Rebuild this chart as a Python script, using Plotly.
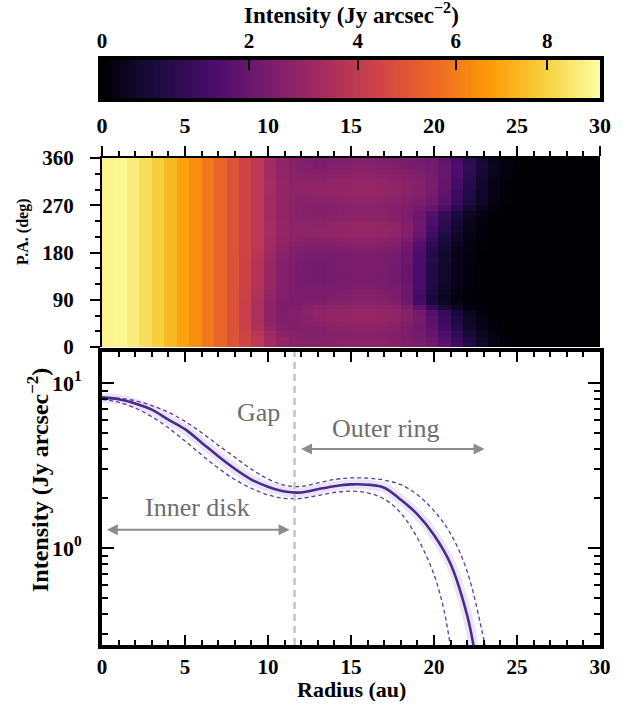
import numpy as np
import plotly.graph_objects as go

# ---------------- data ----------------
# colour scale (power-law norm, gamma 0.8)
cbar_ticks = [0, 2, 4, 6, 8]
cbar_max = 9.2
cbar_gamma = 0.8

# polar-deprojected map: mean radial intensity per radius bin (Jy/arcsec^2)
heat_r_step = 0.75
heat_base = [8.9, 9.0, 8.7, 8.3, 7.9, 7.4, 6.9, 6.4, 5.9, 5.4,
             4.9, 4.4, 3.9, 3.3, 2.9, 2.7, 2.65, 2.65, 2.7, 2.75,
             2.8, 2.8, 2.75, 2.65, 2.5, 2.3, 1.95, 1.4, 0.8, 0.4,
             0.15, 0.05, 0, 0, 0, 0, 0, 0, 0, 0]
pa_centers = list(range(5, 360, 10))
# azimuthal brightness factor of the outer ring
pa_ring_gain = [1.00, 0.98, 0.97, 0.99, 1.03, 1.07, 1.08, 1.04, 0.95, 0.92,
                0.90, 0.88, 0.86, 0.85, 0.86, 0.86, 0.87, 0.88, 0.90, 0.95,
                1.01, 1.07, 1.08, 1.05, 1.00, 0.98, 0.98, 1.00, 1.04, 1.07,
                1.08, 1.05, 1.01, 0.97, 0.93, 0.92]
# shift (au) of the outer edge with position angle
pa_edge_shift = [0.5, 0.4, 0.2, -0.1, -0.3, -0.4, -0.6, -1.3, -1.9, -2.0,
                 -1.8, -1.6, -1.5, -1.5, -1.5, -1.5, -1.4, -1.5, -1.4, -1.3,
                 -1.2, -1.1, -0.9, -0.7, -0.6, -0.4, 0.1, 0.4, 0.4, 0.4,
                 0.5, 0.6, 0.8, 0.9, 1.0, 0.9]
# darkening of the gap region with position angle
pa_gap_dip = [1.0, 1.0, 0.97, 0.88, 0.85, 0.83, 0.83, 0.83, 0.85, 0.88,
              0.90, 0.92, 0.92, 0.92, 0.92, 0.92, 0.93, 0.95, 0.97, 1.0,
              1.0, 1.0, 1.0, 1.0, 1.0, 1.0, 1.0, 1.0, 1.0, 1.0,
              1.0, 1.0, 1.0, 1.0, 1.0, 1.0]

# azimuthally averaged radial profile
mean_r = [0, 1, 2, 3, 4, 5, 6, 7, 8, 9, 10, 11, 12, 13, 14, 15, 16, 17, 18, 19, 20, 21, 22, 22.4]
mean_I = [8.15, 7.98, 7.52, 6.9, 6.0, 5.25, 4.35, 3.6, 3.02, 2.6, 2.35, 2.2, 2.17, 2.27, 2.37,
          2.43, 2.42, 2.32, 1.96, 1.6, 1.2, 0.8, 0.39, 0.25]
upper_r = [0, 1, 2, 3, 4, 5, 6, 7, 8, 9, 10, 11, 12, 13, 14, 15, 16, 17, 18, 19, 20, 21, 22, 23, 23.3]
upper_I = [8.25, 8.1, 7.8, 7.3, 6.65, 5.85, 5.0, 4.2, 3.55, 3.0, 2.62, 2.4, 2.36, 2.48, 2.6,
           2.66, 2.65, 2.58, 2.42, 2.1, 1.68, 1.22, 0.72, 0.28, 0.2]
lower_r = [0, 1, 2, 3, 4, 5, 6, 7, 8, 9, 10, 11, 12, 13, 14, 15, 16, 17, 18, 19, 20, 20.6, 21]
lower_I = [7.95, 7.65, 7.05, 6.25, 5.35, 4.45, 3.67, 3.05, 2.6, 2.3, 2.1, 2.0, 2.0, 2.08, 2.17,
           2.21, 2.16, 1.98, 1.63, 1.15, 0.69, 0.42, 0.25]

gap_radius = 11.6
inner_arrow = [0.2, 11.3, 1.29]     # r_start, r_end, intensity
outer_arrow = [11.9, 23.05, 3.98]
labels = [("Gap", 9.4, 6.6), ("Outer ring", 17.1, 5.3), ("Inner disk", 5.75, 1.75)]

# ---------------- build map ----------------
r_cent = np.arange(len(heat_base)) * heat_r_step + heat_r_step / 2
base = np.array(heat_base)
Z = []
for g, s, d in zip(pa_ring_gain, pa_edge_shift, pa_gap_dip):
    w_edge = np.clip((r_cent - 17.5) / 2.0, 0, 1)
    r_eff = r_cent - s * w_edge
    row = np.interp(r_eff, r_cent, base)
    w_ring = np.clip((r_cent - 10) / 3, 0, 1)
    row = row * (1 + (g - 1) * w_ring)
    w_gap = np.exp(-((r_cent - 10.5) / 1.6) ** 2)
    row = row * (1 + (d - 1) * w_gap)
    Z.append(row)
Z = np.clip(np.array(Z), 0, None) ** cbar_gamma

# colour-bar strip (in normalised power space)
cb_x = np.linspace(0, cbar_max ** cbar_gamma, 300)

FONT = "Liberation Serif"
W, H, ML, MR, MT, MB = 639, 713, 102, 39, 0, 68
PW, PH = W - ML - MR, H - MT - MB


def fnt(size, color="black"):
    return dict(family=FONT, size=size, color=color)


def b(t):
    return "<b>" + t + "</b>"


def px(xp):
    return (xp - ML) / PW


def py(yp):
    return (H - MB - yp) / PH


fig = go.Figure()

fig.add_trace(go.Heatmap(
    x=r_cent, y=pa_centers, z=Z, colorscale="Inferno", zmin=0, zmax=cbar_max ** cbar_gamma,
    zsmooth=False, xaxis="x2", yaxis="y2", showscale=False))

fig.add_trace(go.Heatmap(
    x=cb_x, y=[0], z=[cb_x], colorscale="Inferno", zmin=0, zmax=cbar_max ** cbar_gamma,
    zsmooth=False, xaxis="x3", yaxis="y3", showscale=False, hoverinfo="skip"))

DASH = "4px,3px"
# shaded band around the mean profile
fig.add_trace(go.Scatter(x=mean_r, y=mean_I, mode="lines", line=dict(color="rgba(170,150,215,0.25)", width=10, shape="spline"),
                         hoverinfo="skip"))
fig.add_trace(go.Scatter(x=upper_r, y=upper_I, mode="lines", line=dict(color="#5a3aa8", width=1.3, dash=DASH, shape="spline")))
fig.add_trace(go.Scatter(x=lower_r, y=lower_I, mode="lines", line=dict(color="#5a3aa8", width=1.3, dash=DASH, shape="spline")))
fig.add_trace(go.Scatter(x=mean_r, y=mean_I, mode="lines", line=dict(color="#4b2a8c", width=2.6, shape="spline")))

fig.add_shape(type="line", x0=gap_radius, x1=gap_radius, y0=0, y1=1, xref="x", yref="y domain",
              line=dict(color="#c4c4c4", width=2.5, dash="7px,5px"))

annos = []
for a in (inner_arrow, outer_arrow):
    annos.append(dict(x=a[1], y=float(np.log10(a[2])), ax=a[0], ay=float(np.log10(a[2])), xref="x", yref="y",
                      axref="x", ayref="y", showarrow=True, arrowhead=2, arrowside="end+start",
                      arrowsize=1.1, arrowwidth=2, arrowcolor="#8c8c8c", text=""))
for t, xr, yv in labels:
    annos.append(dict(x=xr, y=float(np.log10(yv)), xref="x", yref="y", text=t, showarrow=False,
                      font=fnt(26, "#6e6e6e")))
# axis titles
annos.append(dict(x=0.5, y=py(690), xref="paper", yref="paper", text=b("Radius (au)"), showarrow=False,
                  xanchor="center", yanchor="middle", font=fnt(22)))
annos.append(dict(x=px(38), y=py(480), xref="paper", yref="paper", text=b("Intensity (Jy arcsec<sup>−2</sup>)"),
                  showarrow=False, textangle=-90, xanchor="center", yanchor="middle", font=fnt(24)))
annos.append(dict(x=px(23), y=py(232), xref="paper", yref="paper", text=b("P.A. (deg)"),
                  showarrow=False, textangle=-90, xanchor="center", yanchor="middle", font=fnt(16)))
annos.append(dict(x=0.5, y=py(14), xref="paper", yref="paper", text=b("Intensity (Jy arcsec<sup>−2</sup>)"),
                  showarrow=False, xanchor="center", yanchor="middle", font=fnt(23)))

common = dict(showgrid=False, zeroline=False, automargin=False, tickcolor="black", linecolor="black")
fig.update_layout(
    width=W, height=H, margin=dict(l=ML, r=MR, t=MT, b=MB),
    paper_bgcolor="white", plot_bgcolor="white", showlegend=False,
    font=dict(family=FONT, color="black"), annotations=annos,
    xaxis=dict(domain=[0, 1], anchor="y", range=[0, 30], tickvals=list(range(0, 31, 5)),
               ticktext=[b(str(v)) for v in range(0, 31, 5)],
               ticks="inside", ticklen=10, tickwidth=2,
               minor=dict(dtick=1, ticks="inside", ticklen=5, tickwidth=1.5, tickcolor="black"),
               showline=True, linewidth=4, mirror="allticks",
               tickfont=fnt(21), ticklabelstandoff=0, **common),
    yaxis=dict(domain=[0, py(352)], anchor="x", type="log", range=[-0.588, 1.188],
               tickvals=[1, 10], ticktext=[b("10<sup>0</sup>"), b("10<sup>1</sup>")],
               ticks="inside", ticklen=12, tickwidth=2,
               minor=dict(tickvals=[0.3, 0.4, 0.5, 0.6, 0.7, 0.8, 0.9, 2, 3, 4, 5, 6, 7, 8, 9],
                          ticks="inside", ticklen=6, tickwidth=1.5, tickcolor="black"),
               showline=True, linewidth=4, mirror="allticks",
               tickfont=fnt(22), ticklabelstandoff=12, **common),
    xaxis2=dict(domain=[0, 1], anchor="y2", side="top", range=[0, 30], tickvals=list(range(0, 31, 5)),
                ticktext=[b(str(v)) for v in range(0, 31, 5)],
                ticks="outside", ticklen=10, tickwidth=2,
                minor=dict(dtick=1, ticks="outside", ticklen=5, tickwidth=1.5, tickcolor="black"),
                showline=True, linewidth=2,
                tickfont=fnt(22), ticklabelstandoff=4, **common),
    yaxis2=dict(domain=[py(347), py(158)], anchor="x2", range=[0, 360], tickvals=[0, 90, 180, 270, 360],
                ticktext=[b(str(v)) for v in [0, 90, 180, 270, 360]],
                ticks="outside", ticklen=10, tickwidth=2,
                minor=dict(dtick=30, ticks="outside", ticklen=5, tickwidth=1.5, tickcolor="black"),
                showline=True, linewidth=2,
                tickfont=fnt(21), ticklabelstandoff=12, **common),
    xaxis3=dict(domain=[0, 1], anchor="y3", side="top", range=[0, cbar_max ** cbar_gamma],
                tickvals=[v ** cbar_gamma for v in cbar_ticks], ticktext=[b(str(v)) for v in cbar_ticks],
                ticks="inside", ticklen=10, tickwidth=2,
                showline=True, linewidth=4, mirror=True,
                tickfont=fnt(21), ticklabelstandoff=0, **common),
    yaxis3=dict(domain=[py(98), py(60)], anchor="x3", range=[-0.5, 0.5],
                showticklabels=False, ticks="", showline=True, linewidth=4,
                mirror=True, **common),
)

fig.write_html("out.html")
